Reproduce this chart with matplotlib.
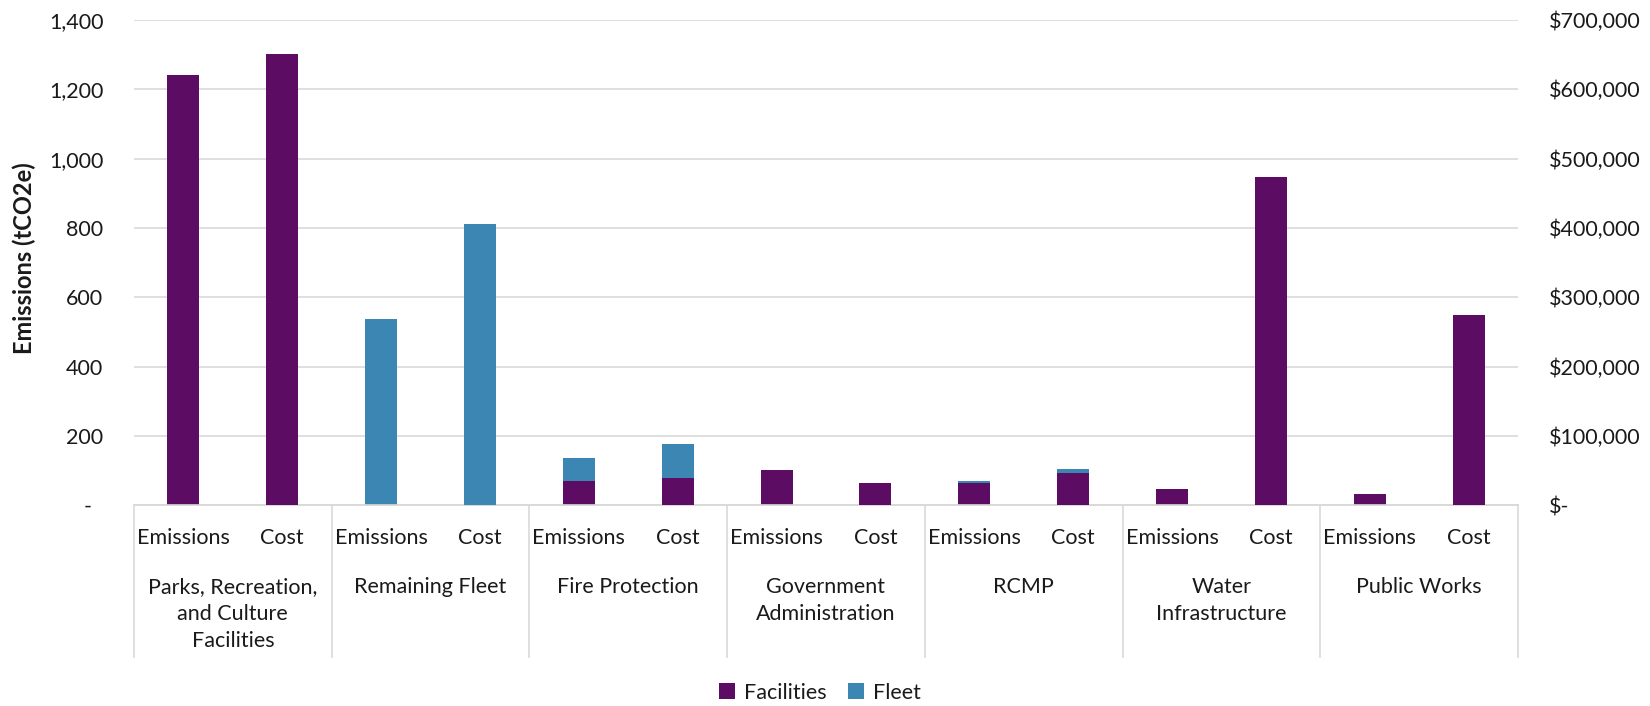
import matplotlib
matplotlib.use("Agg")
import matplotlib.pyplot as plt
from matplotlib.patches import Patch
from matplotlib.lines import Line2D
from matplotlib.ticker import FuncFormatter, MultipleLocator

plt.rcParams['font.family'] = ['Lato', 'DejaVu Sans']

# Departments (outer axis level); each one has an Emissions and a Cost bar
departments = [
    ["Parks, Recreation,", "and Culture", "Facilities"],
    ["Remaining Fleet"],
    ["Fire Protection"],
    ["Government", "Administration"],
    ["RCMP"],
    ["Water", "Infrastructure"],
    ["Public Works"],
]
measures = ["Emissions", "Cost"]

# Emissions (tCO2e), left axis
emissions_facilities = [1241, 0, 70, 102, 64, 47, 34]
emissions_fleet = [0, 536, 66, 0, 6, 0, 0]

# Cost ($), right axis
cost_facilities = [651000, 0, 39500, 32000, 46500, 473500, 275000]
cost_fleet = [0, 406000, 49000, 0, 5800, 0, 0]

PURPLE = "#5C0C63"
BLUE = "#3B86B3"
GRID = "#D9D9D9"
TEXT = "#1A1A1A"
FS = 15.5

fig = plt.figure(figsize=(16.5, 7.06), dpi=100)
ax = fig.add_axes([134 / 1650, 200.7 / 706, 1384 / 1650, 485.3 / 706])
ax2 = ax.twinx()

n = len(departments)
emis_x = [2 * i for i in range(n)]
cost_x = [2 * i + 1 for i in range(n)]
w = 0.325

ax.bar(emis_x, emissions_facilities, width=w, color=PURPLE, zorder=3)
ax.bar(emis_x, emissions_fleet, width=w, bottom=emissions_facilities, color=BLUE, zorder=3)
ax2.bar(cost_x, cost_facilities, width=w, color=PURPLE, zorder=3)
ax2.bar(cost_x, cost_fleet, width=w, bottom=cost_facilities, color=BLUE, zorder=3)

ax.set_xlim(-0.5, 2 * n - 0.5)
ax.set_ylim(0, 1400)
ax2.set_ylim(0, 700000)
ax.yaxis.set_major_locator(MultipleLocator(200))
ax2.yaxis.set_major_locator(MultipleLocator(100000))

ax.yaxis.set_major_formatter(FuncFormatter(lambda v, p: "-  " if v == 0 else f"{v:,.0f}"))
ax2.yaxis.set_major_formatter(FuncFormatter(lambda v, p: "$-" if v == 0 else f"${v:,.0f}"))

ax.grid(axis="y", color=GRID, lw=1.2, zorder=0)
ax.set_axisbelow(True)
for a in (ax, ax2):
    for s in ("top", "left", "right"):
        a.spines[s].set_visible(False)
    a.spines["bottom"].set_color(GRID)
    a.spines["bottom"].set_linewidth(1.2)
    a.tick_params(axis="both", length=0, labelsize=FS, colors=TEXT)
ax.tick_params(axis="y", pad=22)
ax2.tick_params(axis="y", pad=22)
ax.set_xticks([])
ax2.set_xticks([])

ax.set_ylabel("Emissions (tCO2e)", fontsize=17, fontweight="bold", color=TEXT)
ax.yaxis.set_label_coords(-0.0705, 0.51)

# Two-level category axis
trans = ax.get_xaxis_transform()
hpx = 485.3
for i, lines in enumerate(departments):
    for j, m in enumerate(measures):
        ax.text(2 * i + j, -32.7 / hpx, m, transform=trans, ha="center", va="center",
                fontsize=FS, color=TEXT)
    for k, line in enumerate(lines):
        ax.text(2 * i + 0.5, -(82 + 27 * k) / hpx, line, transform=trans,
                ha="center", va="center", fontsize=FS, color=TEXT)

for b in range(n + 1):
    ax.add_line(Line2D([2 * b - 0.5, 2 * b - 0.5], [0, -152 / hpx], transform=trans,
                       color=GRID, lw=1.2, clip_on=False))

handles = [Patch(facecolor=PURPLE, label="Facilities"), Patch(facecolor=BLUE, label="Fleet")]
fig.legend(handles=handles, loc="center", bbox_to_anchor=(0.497, 0.019), ncol=2,
           frameon=False, fontsize=FS, handlelength=0.75, handleheight=0.75,
           handletextpad=0.4, columnspacing=1.0, labelcolor=TEXT)

fig.savefig("out.png", dpi=100)
